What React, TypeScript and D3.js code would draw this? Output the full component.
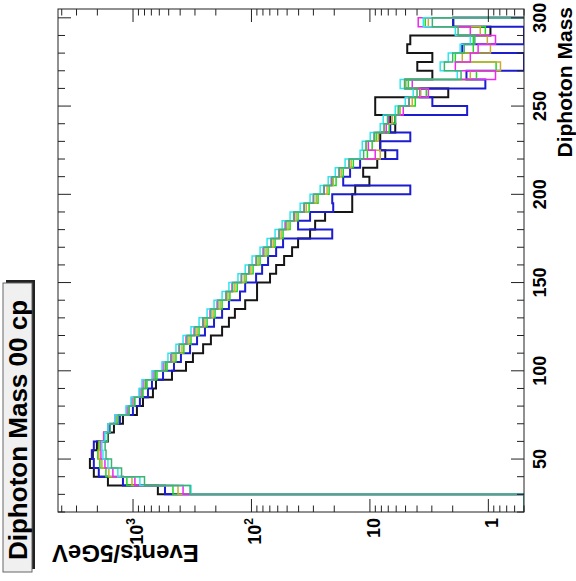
import React from "react";
import * as d3 from "d3";

// Diphoton mass bins: 5 GeV wide, starting at 20 GeV (bin low edges 20..295)
const binLow = 20;
const binWidth = 5;

const blackCounts = [0, 0, 617, 1629, 2143, 2312, 2183, 2018, 1629, 1449, 1216, 927, 824, 679, 640, 469, 357,
  312, 256, 220, 177, 155, 138, 113, 89.7, 89.7, 69.7, 61.9, 53.0, 45.4, 40.4, 32.0, 29.0, 23.9, 14.1, 14.1, 13.3,
  10.1, 11.4, 8.67, 7.42, 8.18, 8.18, 6.11, 6.73, 9.02, 9.02, 2.18, 5.03, 2.97, 3.98, 2.97, 4.84, 4.56, 0.96, 1.98];
const blueCounts = [0, 0, 537, 1216, 1945, 2143, 2228, 2143, 1762, 1567, 1291, 1002, 875, 748, 692, 558, 451,
  394, 330, 288, 247, 207, 177, 155, 125, 113, 91.4, 81.3, 72.4, 61.9, 54.1, 20.8, 40.4, 32.0, 20.4, 20.8, 4.56,
  16.8, 14.7, 12.1, 5.87, 8.18, 4.56, 6.73, 6.11, 1.51, 2.97, 3.76, 1.06, 1.53, 0, 0, 1.66, 0, 0, 1.98];
const greenCounts = [0, 0, 460, 1127, 1694, 1905, 1982, 1945, 1762, 1629, 1368, 1084, 964, 824, 762, 628, 516,
  434, 372, 324, 277, 237, 203, 177, 152, 132, 111, 96.9, 84.6, 72.4, 63.2, 54.1, 47.2, 40.4, 32.6, 27.4, 22.1,
  19.3, 16.8, 13.8, 10.5, 9.57, 8.85, 6.87, 6.11, 5.77, 4.14, 3.34, 4.74, 1.26, 0.86, 1.90, 1.34, 1.34, 1.06, 3.41];
const yellowCounts = [0, 0, 417, 1021, 1600, 1832, 1945, 1905, 1762, 1629, 1396, 1104, 982, 841, 793, 653, 537,
  451, 386, 337, 288, 247, 211, 184, 158, 138, 115, 101, 87.9, 75.3, 65.6, 56.2, 49.1, 42.0, 34.5, 28.4, 23.0,
  20.4, 17.5, 14.4, 8.18, 10.7, 8.51, 7.57, 6.48, 5.55, 4.39, 3.76, 5.03, 1.42, 0.79, 1.66, 0.96, 1.02, 1.17, 3.21];
const magentaCounts = [0, 0, 378, 964, 1479, 1726, 1866, 1866, 1762, 1629, 1422, 1127, 1021, 875, 824, 679, 558,
  479, 409, 357, 305, 256, 224, 195, 164, 146, 122, 105, 91.4, 79.8, 68.2, 58.5, 52.0, 43.6, 35.9, 30.1, 24.3,
  21.2, 18.2, 15.0, 9.02, 10.3, 9.20, 7.28, 7.00, 5.23, 4.66, 3.21, 4.39, 0.87, 1.90, 1.42, 1.22, 0.87, 1.42, 3.91];
const cyanCounts = [0, 0, 324, 875, 1343, 1629, 1795, 1832, 1726, 1629, 1422, 1148, 1042, 891, 841, 692, 570,
  507, 434, 378, 324, 277, 237, 207, 177, 155, 130, 113, 98.8, 84.6, 73.8, 63.2, 55.1, 47.2, 38.8, 32.0, 26.3,
  22.5, 19.6, 16.2, 12.1, 11.6, 9.94, 8.18, 7.72, 6.11, 5.03, 4.31, 5.55, 1.83, 2.55, 2.18, 1.73, 1.42, 1.90, 3.54];
const tealCounts = [0, 0, 330, 800, 1250, 1520, 1690, 1720, 1640, 1560, 1330, 1080, 975, 840, 780, 650, 530,
  470, 405, 350, 300, 258, 220, 192, 164, 144, 121, 105, 91.0, 78.5, 68.5, 58.5, 51.0, 44.0, 36.0, 29.8, 24.5,
  20.9, 18.2, 15.0, 11.3, 10.8, 9.2, 7.6, 7.1, 5.7, 4.7, 4.0, 5.1, 1.70, 2.35, 2.00, 1.60, 1.30, 1.80, 2.97];

const seriesList = [
  { name: "black", values: blackCounts, color: "#151515", width: 2 },
  { name: "blue", values: blueCounts, color: "#1c1cd0", width: 2 },
  { name: "green", values: greenCounts, color: "#22d622", width: 1.5 },
  { name: "yellow", values: yellowCounts, color: "#c9ad2c", width: 1.5 },
  { name: "magenta", values: magentaCounts, color: "#ee28ee", width: 1.5 },
  { name: "cyan", values: cyanCounts, color: "#30e6ee", width: 1.5 },
  { name: "teal", values: tealCounts, color: "#3cb371", width: 1.5 },
];

const massTicks = d3.range(20, 301, 10);
const massLabels = [50, 100, 150, 200, 250, 300];
const decadeLabels = [
  { v: 1000, base: "10", exp: "3" },
  { v: 100, base: "10", exp: "2" },
  { v: 10, base: "10", exp: "" },
  { v: 1, base: "1", exp: "" },
];

const titleText = "Diphoton Mass 00 cp";
const xTitle = "Diphoton Mass";
const yTitle = "Events/5GeV";

const W = 576;
const H = 581;
const FONT = "'Liberation Sans', Arial, Helvetica, sans-serif";

export default function App() {
  const frame = { left: 58, right: 524, top: 9, bottom: 512 };
  // rotated ROOT canvas: mass runs upward along the right side, counts (log) run right-to-left
  const mass = d3.scaleLinear().domain([20, 305]).range([frame.bottom, frame.top]);
  const count = d3.scaleLog().domain([0.5, 4300]).range([frame.right, frame.left]).clamp(true);
  const cx = (v: number) => (v > 0 ? count(v) : frame.right);

  const line = d3.line<[number, number]>().x((p) => p[0]).y((p) => p[1]);
  const histPath = (vals: number[]) => {
    const pts: [number, number][] = [];
    pts.push([frame.right, mass(binLow)]);
    vals.forEach((v, i) => {
      const lo = binLow + i * binWidth;
      pts.push([cx(v), mass(lo)]);
      pts.push([cx(v), mass(lo + binWidth)]);
    });
    pts.push([frame.right, mass(binLow + vals.length * binWidth)]);
    return line(pts) || "";
  };

  const logTicks: { v: number; major: boolean }[] = [];
  for (let e = -1; e <= 3; e++) {
    for (let k = 1; k <= 9; k++) {
      const v = k * Math.pow(10, e);
      if (v >= 0.5 && v <= 4300) logTicks.push({ v, major: k === 1 });
    }
  }

  return (
    <svg
      width={W}
      height={H}
      viewBox={`0 0 ${W} ${H}`}
      style={{ position: "absolute", left: 0, top: 0, background: "#fff" }}
      fontFamily={FONT}
    >
      <rect x={0} y={0} width={W} height={H} fill="#fff" />
      <defs>
        <clipPath id="frameClip">
          <rect x={frame.left} y={frame.top} width={frame.right - frame.left} height={frame.bottom - frame.top} />
        </clipPath>
      </defs>

      {/* histograms */}
      <g clipPath="url(#frameClip)">
        {seriesList.map((s) => (
          <path key={s.name} d={histPath(s.values)} fill="none" stroke={s.color} strokeWidth={s.width} />
        ))}
      </g>

      {/* frame */}
      <rect
        x={frame.left}
        y={frame.top}
        width={frame.right - frame.left}
        height={frame.bottom - frame.top}
        fill="none"
        stroke="#222"
        strokeWidth={1}
      />

      {/* mass axis ticks (right side and opposite left side) */}
      {massTicks.map((m) => {
        const y = mass(m);
        const len = m % 50 === 0 ? 13 : 7;
        return (
          <g key={"mt" + m} stroke="#222" strokeWidth={1}>
            <line x1={frame.right} x2={frame.right - len} y1={y} y2={y} />
            <line x1={frame.left} x2={frame.left + len} y1={y} y2={y} />
          </g>
        );
      })}

      {/* log axis ticks (bottom and opposite top) */}
      {logTicks.map((t) => {
        const x = count(t.v);
        const len = t.major ? 13 : 6.5;
        return (
          <g key={"lt" + t.v} stroke="#222" strokeWidth={1}>
            <line x1={x} x2={x} y1={frame.bottom} y2={frame.bottom - len} />
            <line x1={x} x2={x} y1={frame.top} y2={frame.top + len} />
          </g>
        );
      })}

      {/* mass tick labels */}
      {massLabels.map((m) => (
        <text
          key={"ml" + m}
          transform={`translate(546,${mass(m)}) rotate(-90)`}
          textAnchor="middle"
          fontSize={18}
          fontWeight="bold"
          fill="#000"
        >
          {m}
        </text>
      ))}

      {/* log tick labels */}
      {decadeLabels.map((d) => (
        <text
          key={"dl" + d.v}
          transform={`translate(${count(d.v) + 10},518) rotate(-90)`}
          textAnchor="end"
          fontSize={18}
          fontWeight="bold"
          fill="#000"
        >
          {d.base}
          {d.exp ? (
            <tspan fontSize={12} dy={-8}>
              {d.exp}
            </tspan>
          ) : null}
        </text>
      ))}

      {/* axis titles */}
      <text
        transform={`translate(572,7) rotate(-90)`}
        textAnchor="end"
        fontSize={21}
        fontWeight="bold"
        fill="#000"
      >
        {xTitle}
      </text>
      <text
        transform={`translate(52,545) rotate(180)`}
        textAnchor="end"
        fontSize={24}
        fontWeight="bold"
        fill="#000"
      >
        {yTitle}
      </text>

      {/* title box with shadow */}
      <rect x={6} y={280} width={29} height={289} fill="#222" />
      <rect x={3} y={283} width={29} height={289} fill="#f0f0f0" stroke="#666" strokeWidth={1} />
      <text
        transform={`translate(27,430) rotate(-90)`}
        textAnchor="middle"
        fontSize={26}
        fontWeight="bold"
        fill="#000"
      >
        {titleText}
      </text>
    </svg>
  );
}
